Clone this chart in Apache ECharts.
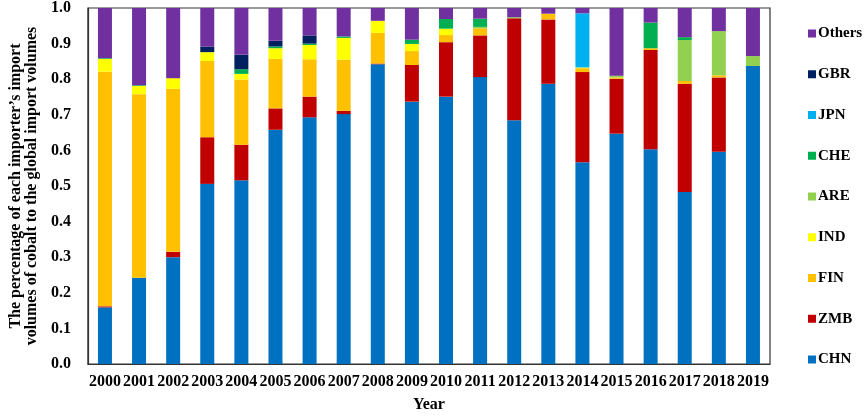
<!DOCTYPE html>
<html><head><meta charset="utf-8">
<script src="https://cdn.jsdelivr.net/npm/echarts@6/dist/echarts.min.js"></script>
<style>html,body{margin:0;padding:0;background:#fff}#c{width:865px;height:418px}</style>
</head><body><div id="c"></div>
<script>
const years = ['2000','2001','2002','2003','2004','2005','2006','2007','2008','2009','2010','2011','2012','2013','2014','2015','2016','2017','2018','2019'];
const CHN =    [0.159,0.242,0.300,0.506,0.516,0.658,0.693,0.702,0.842,0.737,0.751,0.806,0.685,0.787,0.567,0.647,0.603,0.483,0.596,0.837];
const ZMB =    [0.003,0.000,0.015,0.131,0.100,0.060,0.058,0.009,0.002,0.103,0.153,0.117,0.286,0.181,0.253,0.154,0.279,0.304,0.209,0.000];
const FIN =    [0.659,0.516,0.458,0.214,0.183,0.139,0.105,0.144,0.086,0.039,0.020,0.020,0.000,0.016,0.011,0.004,0.005,0.008,0.006,0.000];
const IND =    [0.036,0.023,0.030,0.025,0.016,0.030,0.040,0.061,0.034,0.020,0.018,0.000,0.000,0.000,0.002,0.000,0.000,0.000,0.000,0.000];
const ARE =    [0.000,0.000,0.000,0.000,0.000,0.000,0.000,0.000,0.000,0.000,0.000,0.004,0.003,0.000,0.000,0.005,0.000,0.115,0.124,0.028];
const CHE =    [0.002,0.002,0.000,0.000,0.013,0.005,0.004,0.004,0.000,0.012,0.027,0.023,0.000,0.000,0.000,0.000,0.072,0.008,0.000,0.000];
const JPN =    [0.000,0.000,0.000,0.000,0.000,0.000,0.000,0.000,0.000,0.000,0.000,0.000,0.000,0.000,0.152,0.000,0.000,0.000,0.000,0.000];
const GBR =    [0.000,0.000,0.000,0.016,0.041,0.016,0.023,0.000,0.000,0.000,0.000,0.000,0.000,0.000,0.000,0.000,0.000,0.000,0.000,0.000];
const Others = [0.141,0.217,0.197,0.108,0.131,0.092,0.077,0.080,0.036,0.089,0.031,0.030,0.026,0.016,0.017,0.190,0.041,0.082,0.065,0.135];
const yTicks = ['0.0','0.1','0.2','0.3','0.4','0.5','0.6','0.7','0.8','0.9','1.0'];

const names = ['CHN','ZMB','FIN','IND','ARE','CHE','JPN','GBR','Others'];
const values = [CHN,ZMB,FIN,IND,ARE,CHE,JPN,GBR,Others];
const colors = ['#0070C0','#C00000','#FFC000','#FFFF00','#92D050','#00B050','#00B0F0','#002060','#7030A0'];
const font = "'Liberation Serif','Times New Roman',serif";

const chart = echarts.init(document.getElementById('c'));
chart.setOption({
  animation:false,
  color: colors,
  textStyle:{fontFamily:font},
  grid:{left:75,right:95,top:7,bottom:48,show:true,borderColor:'#333',borderWidth:1.2,containLabel:false},
  legend:{
    orient:'vertical', left:803, top:21,
    data: names.slice().reverse(),
    itemWidth:8,itemHeight:8,itemGap:25.75,
    icon:'rect',
    textStyle:{fontFamily:font,fontWeight:'bold',fontSize:15,color:'#000',padding:[0,0,0,-3]}
  },
  xAxis:{
    type:'category', data: years,
    name:'Year', nameLocation:'middle', nameGap:33,
    nameTextStyle:{fontFamily:font,fontWeight:'bold',fontSize:16,color:'#000'},
    axisTick:{show:false},
    axisLine:{lineStyle:{color:'#333',width:1.2}},
    axisLabel:{fontFamily:font,fontWeight:'bold',fontSize:16,color:'#000',margin:10,interval:0}
  },
  yAxis:{
    type:'value', min:0, max:1, interval:0.1,
    name:'The percentage of each importer\u2019s import\nvolumes of cobalt to the global import volumes',
    nameLocation:'middle', nameGap:36, nameRotate:90,
    nameTextStyle:{fontFamily:font,fontWeight:'bold',fontSize:16,color:'#000',lineHeight:16},
    splitLine:{show:false},
    axisTick:{show:false},
    axisLine:{show:true,lineStyle:{color:'#333',width:1.2}},
    axisLabel:{fontFamily:font,fontWeight:'bold',fontSize:16,color:'#000',margin:17,
      formatter:function(v){return yTicks[Math.round(v*10)];}}
  },
  series: names.map((n,i)=>({
    name:n, type:'bar', stack:'t', data: values[i], barWidth:14,
    itemStyle:{color:colors[i]}
  }))
});
</script></body></html>
